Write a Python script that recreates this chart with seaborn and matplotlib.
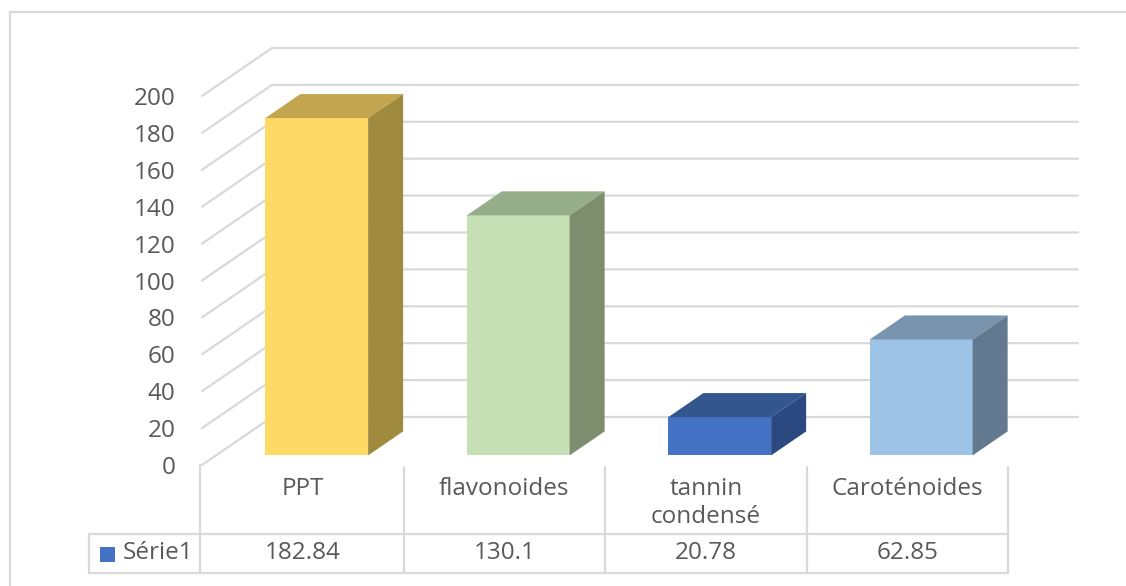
import matplotlib
matplotlib.use("Agg")
import matplotlib.pyplot as plt
import matplotlib.transforms as mtransforms
from matplotlib.patches import Polygon
from matplotlib.lines import Line2D
import seaborn as sns

# ---- data ----
categories = ["PPT", "flavonoides", "tannin\ncondensé", "Caroténoides"]
values = [182.84, 130.1, 20.78, 62.85]
value_labels = ["182.84", "130.1", "20.78", "62.85"]
series_name = "Série1"
yticks = [0, 20, 40, 60, 80, 100, 120, 140, 160, 180, 200]

front_colors = ["#FFD966", "#C5E0B4", "#4472C4", "#9DC3E6"]
top_colors = ["#C2A54E", "#95AD88", "#33568F", "#7894AF"]
side_colors = ["#A08A3E", "#7D8E6F", "#2B4880", "#63798F"]

sns.set_theme(style="white")
plt.rcParams["font.family"] = ["Open Sans", "DejaVu Sans"]
FS = 17.5

W, H, DPI = 1126, 586, 100
fig = plt.figure(figsize=(W / DPI, H / DPI), dpi=DPI)

def fy(py):  # figure fraction from pixel-from-top
    return (H - py) / H

left_px, right_px = 202, 1008
y0_px, y200_px = 465, 96
ax = fig.add_axes([left_px / W, fy(y0_px), (right_px - left_px) / W, (y0_px - y200_px) / H])
ax.set_xlim(-0.5, 3.5)
ax.set_ylim(0, 200)

DX, DY = 70, 48          # full depth offset in pixels
D0, D1 = 0.2, 0.7        # bar depth range

TXT = "#595959"
GRID = "#D9D9D9"
ident = mtransforms.IdentityTransform()

# bars (front faces) via seaborn
sns.barplot(x=list(range(len(categories))), y=values, hue=list(range(len(categories))),
            palette=front_colors, width=0.51, ax=ax, legend=False, saturation=1,
            linewidth=0, zorder=3)
ax.set_xlim(-0.5, 3.5)
ax.set_ylim(0, 200)

fig.canvas.draw()

def P(x, v, d):
    bx, by = ax.transData.transform((x, v))
    return (bx + d * DX, by + d * DY)

# gridlines on walls (inside the axes, below the bars)
for v in yticks:
    pts = [P(-0.5, v, 0), P(-0.5, v, 1), P(3.5, v, 1)]
    ln = Line2D([p[0] for p in pts], [p[1] for p in pts], transform=ident,
                color=GRID, lw=1.6, zorder=1, clip_on=False)
    ax.add_line(ln)

off = mtransforms.offset_copy(ax.transData, fig=fig, x=D0 * DX, y=D0 * DY, units="dots")
for i, p in enumerate(list(ax.patches)):
    p.set_transform(off)
    p.set_clip_on(False)
    p.set_zorder(3)
    x0 = p.get_x(); x1 = x0 + p.get_width(); h = p.get_height()
    top = [P(x0, h, D0), P(x1, h, D0), P(x1, h, D1), P(x0, h, D1)]
    side = [P(x1, 0, D0), P(x1, h, D0), P(x1, h, D1), P(x1, 0, D1)]
    ax.add_artist(Polygon(top, closed=True, transform=ident, facecolor=top_colors[i],
                          edgecolor="none", zorder=4, clip_on=False))
    ax.add_artist(Polygon(side, closed=True, transform=ident, facecolor=side_colors[i],
                          edgecolor="none", zorder=4, clip_on=False))

# axes styling
for s in ax.spines.values():
    s.set_visible(False)
ax.set_xticks([])
ax.set_yticks(yticks)
ax.set_yticklabels([str(t) for t in yticks])
ax.tick_params(axis="y", length=0, pad=19, labelsize=FS, labelcolor=TXT)
ax.set_xlabel(""); ax.set_ylabel("")
ax.patch.set_alpha(0)
ax.grid(False)

# data table
def fline(xs_px, ys_px):
    fig.add_artist(Line2D([x / W for x in xs_px], [fy(y) for y in ys_px],
                          transform=fig.transFigure, color=GRID, lw=1.6, zorder=1))

col_edges = [ax.transData.transform((x, 0))[0] for x in [-0.5, 0.5, 1.5, 2.5, 3.5]]
fline([200, 200], [465, 573])
for xe in col_edges[1:]:
    fline([xe, xe], [467, 573])
fline([89, col_edges[-1]], [534, 534])
fline([89, col_edges[-1]], [573, 573])
fline([89, 89], [534, 573])

# outer border (top and left)
fline([10, W], [12, 12])
fline([10, 10], [12, H])

blend = mtransforms.blended_transform_factory(ax.transData, fig.transFigure)
for i, (c, vl) in enumerate(zip(categories, value_labels)):
    fig.text(i, fy(503 if "\n" in c else 489), c, transform=blend, ha="center", va="center",
             fontsize=FS, color=TXT, linespacing=1.2)
    fig.text(i, fy(553), vl, transform=blend, ha="center", va="center",
             fontsize=FS, color=TXT)

fig.add_artist(plt.Rectangle((100 / W, fy(562)), 15 / W, 15 / H, transform=fig.transFigure,
                             facecolor="#4472C4", edgecolor="none"))
fig.text(123 / W, fy(553), series_name, ha="left", va="center", fontsize=FS, color=TXT)

fig.savefig("out.png", dpi=DPI)
